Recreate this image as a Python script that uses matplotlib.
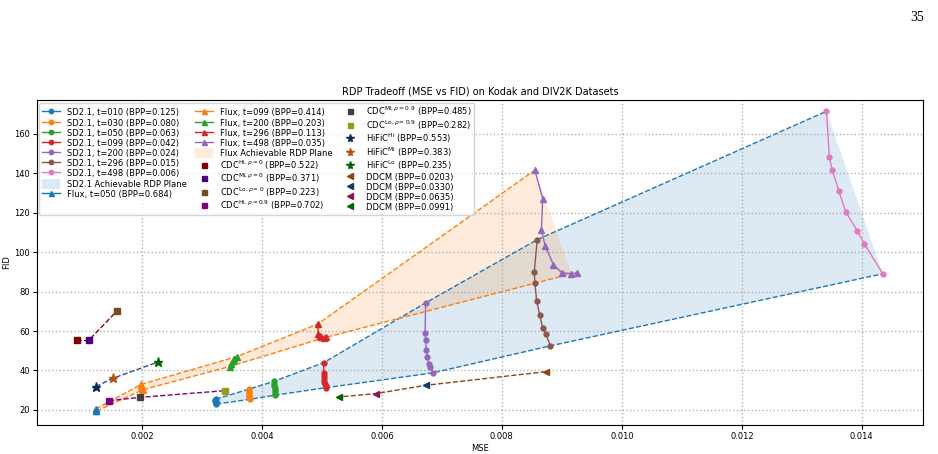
import numpy as np
import matplotlib
matplotlib.use('Agg')
import matplotlib.pyplot as plt
from matplotlib.patches import Patch

#### data (MSE, FID)
sd_labels = ['SD2.1, t=010 (BPP=0.125)', 'SD2.1, t=030 (BPP=0.080)', 'SD2.1, t=050 (BPP=0.063)',
             'SD2.1, t=099 (BPP=0.042)', 'SD2.1, t=200 (BPP=0.024)', 'SD2.1, t=296 (BPP=0.015)',
             'SD2.1, t=498 (BPP=0.006)']
sd_mse = [
    [0.00323, 0.00322, 0.00322, 0.00323, 0.00323, 0.00323, 0.00324, 0.00324],
    [0.00378, 0.00378, 0.00378, 0.00379, 0.00379, 0.00379, 0.00380, 0.00380],
    [0.00420, 0.00420, 0.00420, 0.00421, 0.00421, 0.00421, 0.00422, 0.00422],
    [0.00503, 0.00503, 0.00503, 0.00504, 0.00504, 0.00505, 0.00506, 0.00507],
    [0.00673, 0.00672, 0.00673, 0.00674, 0.00676, 0.00678, 0.00680, 0.00685],
    [0.00859, 0.00854, 0.00855, 0.00858, 0.00863, 0.00868, 0.00873, 0.00881],
    [0.01341, 0.01346, 0.01351, 0.01362, 0.01373, 0.01392, 0.01404, 0.01435],
]
sd_fid = [
    [25.5, 25.0, 24.6, 24.2, 23.9, 23.6, 23.3, 23.0],
    [30.5, 29.6, 28.8, 28.0, 27.3, 26.6, 26.0, 25.4],
    [34.5, 33.2, 32.0, 31.0, 30.1, 29.2, 28.3, 27.5],
    [44.0, 38.5, 37.0, 35.5, 34.2, 33.2, 32.2, 31.3],
    [74.3, 59.0, 55.5, 50.5, 47.0, 43.4, 42.0, 38.8],
    [106.3, 90.0, 84.5, 75.3, 68.2, 61.6, 58.6, 52.5],
    [171.3, 147.9, 141.3, 130.7, 120.5, 110.9, 104.3, 89.0],
]

flux_labels = ['Flux, t=050 (BPP=0.684)', 'Flux, t=099 (BPP=0.414)', 'Flux, t=200 (BPP=0.203)',
               'Flux, t=296 (BPP=0.113)', 'Flux, t=498 (BPP=0.035)']
flux_mse = [
    [0.00123, 0.00123, 0.00124, 0.00124],
    [0.00199, 0.00199, 0.00200, 0.00200, 0.00201],
    [0.00358, 0.00354, 0.00351, 0.00348, 0.00346],
    [0.00493, 0.00494, 0.00496, 0.00499, 0.00503, 0.00507],
    [0.00855, 0.00868, 0.00866, 0.00872, 0.00886, 0.00900, 0.00916, 0.00925],
]
flux_fid = [
    [20.5, 20.1, 19.7, 19.4],
    [33.0, 32.2, 31.5, 30.8, 30.2],
    [47.0, 46.0, 45.0, 43.5, 42.0],
    [63.5, 58.5, 57.5, 57.0, 56.5, 57.0],
    [141.5, 127.1, 111.4, 103.2, 93.6, 89.5, 89.0, 89.5],
]

cdc0_labels = [r'CDC$^{\mathrm{Hi},\rho=0}$ (BPP=0.522)', r'CDC$^{\mathrm{Mi},\rho=0}$ (BPP=0.371)',
               r'CDC$^{\mathrm{Lo},\rho=0}$ (BPP=0.223)']
cdc0_mse = [0.00091, 0.00111, 0.00158]
cdc0_fid = [55.2, 55.2, 70.0]
cdc0_colors = ['#800000', '#4b0082', '#7b4a22']

cdc9_labels = [r'CDC$^{\mathrm{Hi},\rho=0.9}$ (BPP=0.702)', r'CDC$^{\mathrm{Mi},\rho=0.9}$ (BPP=0.485)',
               r'CDC$^{\mathrm{Lo},\rho=0.9}$ (BPP=0.282)']
cdc9_mse = [0.00145, 0.00197, 0.00339]
cdc9_fid = [24.7, 26.4, 29.8]
cdc9_colors = ['#800080', '#404040', '#9a9a1e']

hific_labels = [r'HiFiC$^{\mathrm{Hi}}$ (BPP=0.553)', r'HiFiC$^{\mathrm{Mi}}$ (BPP=0.383)',
                r'HiFiC$^{\mathrm{Lo}}$ (BPP=0.235)']
hific_mse = [0.00123, 0.00151, 0.00226]
hific_fid = [31.8, 36.0, 44.2]
hific_colors = ['#0b2a55', '#b5520e', '#006400']

ddcm_labels = ['DDCM (BPP=0.0203)', 'DDCM (BPP=0.0330)', 'DDCM (BPP=0.0635)', 'DDCM (BPP=0.0991)']
ddcm_mse = [0.00873, 0.00673, 0.00590, 0.00528]
ddcm_fid = [39.4, 32.5, 28.3, 26.6]
ddcm_colors = ['#8b4513', '#0b3d6b', '#8b1a4b', '#006400']

plt.rcParams['font.size'] = 6
plt.rcParams['mathtext.fontset'] = 'dejavusans'
fig = plt.figure(figsize=(9.38, 4.54), dpi=100)
ax = fig.add_axes([0.0394, 0.0639, 0.9446, 0.7158])

#achievable plane: polygon through best and worst FID point of every series
def plane(mse_list, fid_list, color, label):
    top = [(m[int(np.argmax(f))], max(f)) for m, f in zip(mse_list, fid_list)]
    bot = [(m[int(np.argmin(f))], min(f)) for m, f in zip(mse_list, fid_list)]
    poly = np.array(top + bot[::-1])
    ax.fill(poly[:, 0], poly[:, 1], color=color, alpha=0.15, lw=0, zorder=1)
    ax.plot([p[0] for p in top], [p[1] for p in top], '--', color=color, lw=1, zorder=2)
    ax.plot([p[0] for p in bot], [p[1] for p in bot], '--', color=color, lw=1, zorder=2)
    return Patch(facecolor=color, alpha=0.15, label=label)

handles = []
for i in range(len(sd_labels)):
    h, = ax.plot(sd_mse[i], sd_fid[i], '-o', color='C%d' % i, lw=1, ms=3.5, label=sd_labels[i], zorder=3)
    handles.append(h)
handles.append(plane(sd_mse, sd_fid, 'C0', 'SD2.1 Achievable RDP Plane'))

for i in range(len(flux_labels)):
    h, = ax.plot(flux_mse[i], flux_fid[i], '-^', color='C%d' % i, lw=1, ms=4, label=flux_labels[i], zorder=3)
    handles.append(h)
handles.append(plane(flux_mse, flux_fid, 'C1', 'Flux Achievable RDP Plane'))

#baselines: dashed connectors, then markers
ax.plot(cdc0_mse, cdc0_fid, '--', color='#8b0000', lw=1, zorder=2)
ax.plot(cdc9_mse, cdc9_fid, '--', color='#800080', lw=1, zorder=2)
ax.plot(hific_mse, hific_fid, '--', color='#2a4f8a', lw=1, zorder=2)
ax.plot(ddcm_mse, ddcm_fid, '--', color='#8b4513', lw=1, zorder=2)

for mse, fid, cols, labs in [(cdc0_mse, cdc0_fid, cdc0_colors, cdc0_labels),
                             (cdc9_mse, cdc9_fid, cdc9_colors, cdc9_labels)]:
    for m, f, c, l in zip(mse, fid, cols, labs):
        h, = ax.plot(m, f, 's', color=c, ms=4, ls='none', label=l, zorder=4)
        handles.append(h)
for m, f, c, l in zip(hific_mse, hific_fid, hific_colors, hific_labels):
    h, = ax.plot(m, f, '*', color=c, ms=6.5, ls='none', label=l, zorder=4)
    handles.append(h)
for m, f, c, l in zip(ddcm_mse, ddcm_fid, ddcm_colors, ddcm_labels):
    h, = ax.plot(m, f, '<', color=c, ms=4.5, ls='none', label=l, zorder=4)
    handles.append(h)

ax.set_xlim(0.00025, 0.01502)
ax.set_ylim(12.4, 177)
ax.set_yticks([20, 40, 60, 80, 100, 120, 140, 160])
ax.grid(True, linestyle=':', color='#a0a0a0', alpha=0.8, lw=1)
ax.set_xlabel('MSE', labelpad=2)
ax.set_ylabel('FID', labelpad=2)
ax.set_title('RDP Tradeoff (MSE vs FID) on Kodak and DIV2K Datasets', fontsize=7, pad=4)
ax.tick_params(labelsize=6, length=3, pad=2)

ax.legend(handles=handles, ncol=3, loc='upper left', fontsize=6, handlelength=2.2,
          borderaxespad=0.3, labelspacing=0.0, columnspacing=1.0, framealpha=0.8,
          handleheight=1.5, markerscale=0.9, borderpad=0.3)

fig.text(0.985, 0.975, '35', ha='right', va='top', fontsize=10, family='Liberation Serif')

plt.savefig('out.png', dpi=100)
